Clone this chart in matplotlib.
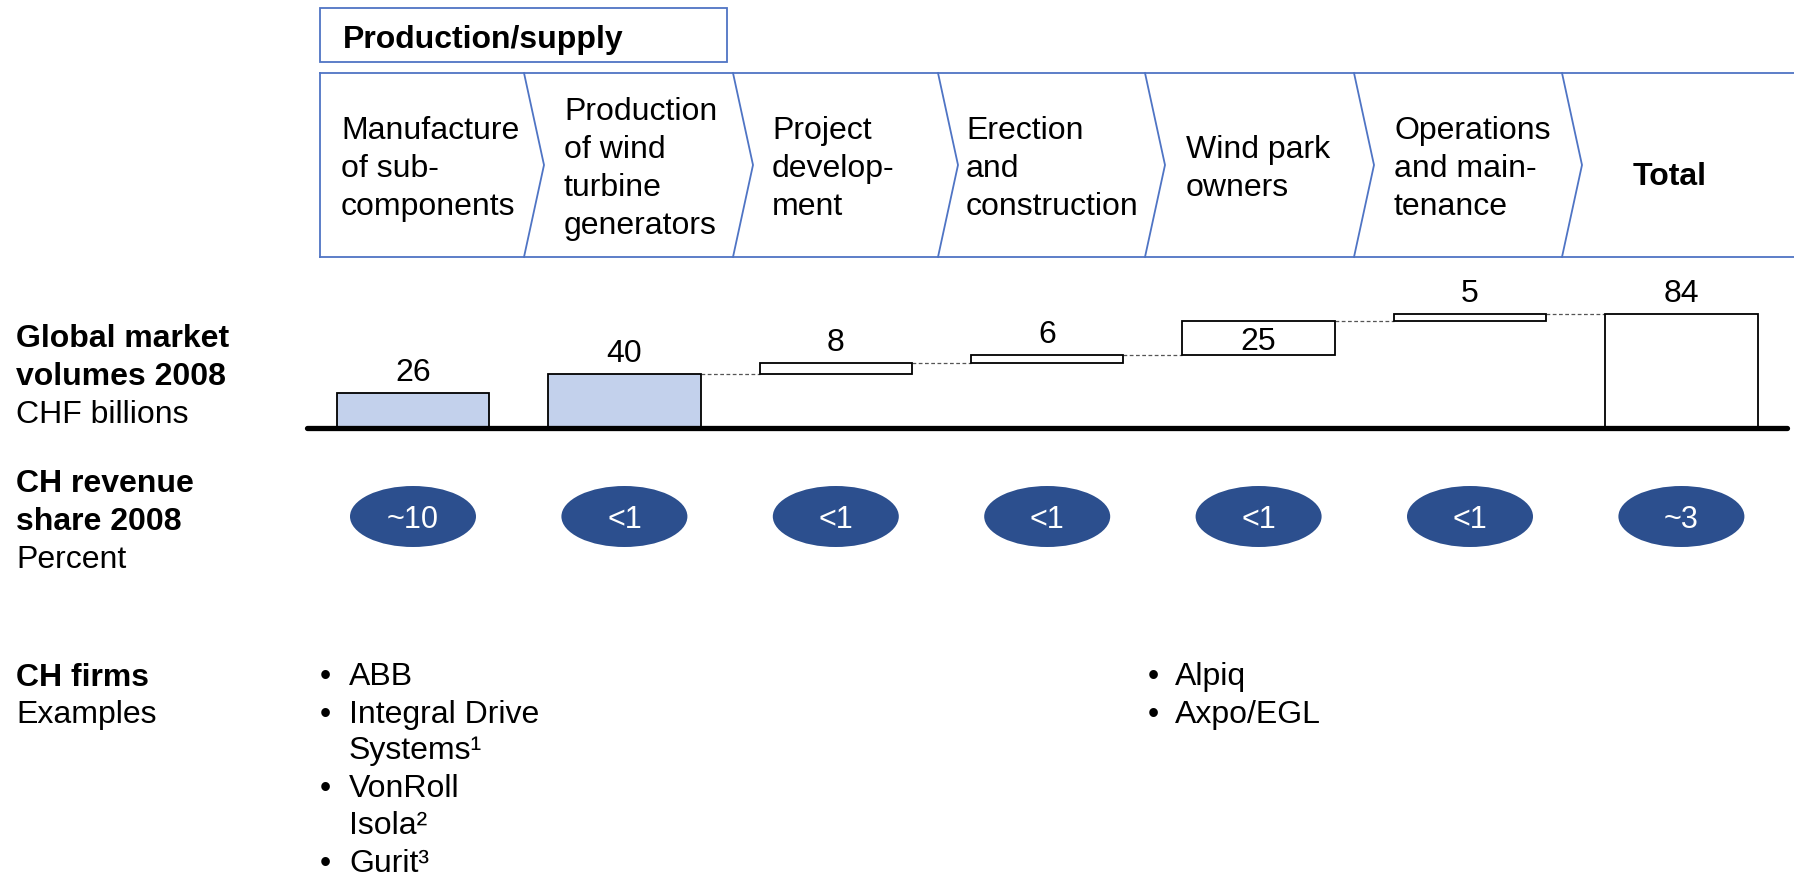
import matplotlib
matplotlib.use("Agg")
import matplotlib.pyplot as plt
from matplotlib.patches import Rectangle, Ellipse

plt.rcParams['font.family'] = ['Liberation Sans', 'DejaVu Sans']

# ---- data -------------------------------------------------------------
stages = ["Manufacture\nof sub-\ncomponents",
          "Production\nof wind\nturbine\ngenerators",
          "Project\ndevelop-\nment",
          "Erection\nand\nconstruction",
          "Wind park\nowners",
          "Operations\nand main-\ntenance",
          "Total"]
market_volume = [26, 40, 8, 6, 25, 5, 84]          # CHF billions, 2008
revenue_share = ["~10", "<1", "<1", "<1", "<1", "<1", "~3"]   # percent
firms_components = ["ABB", "Integral Drive\nSystems¹", "VonRoll\nIsola²", "Gurit³"]
firms_owners = ["Alpiq", "Axpo/EGL"]
header = "Production/supply"
row_titles = [("Global market\nvolumes 2008", "CHF billions"),
              ("CH revenue\nshare 2008", "Percent"),
              ("CH firms", "Examples")]

# ---- style ------------------------------------------------------------
W, H = 1794, 879
FS = 23
CHEVRON_BLUE = "#4F74C4"
BAR_BLUE = "#C3D1EC"
OVAL_BLUE = "#2C4F8E"
LINE_STEP = 37.7

fig = plt.figure(figsize=(W / 100, H / 100), dpi=100)

# page canvas in pixel units (y downwards) for the frame and text blocks
page = fig.add_axes([0, 0, 1, 1])
page.set_xlim(0, W)
page.set_ylim(H, 0)
page.axis("off")


def text_block(x, y_center, lines, weights, step=LINE_STEP, **kw):
    n = len(lines)
    for k, (line, w) in enumerate(zip(lines, weights)):
        yb = y_center + (k - (n - 1) / 2) * step
        page.text(x, yb, line, fontsize=FS, fontweight=w, va="baseline", **kw)


# header box
page.add_patch(Rectangle((320, 9), 407, 54, fill=False, edgecolor=CHEVRON_BLUE, lw=1.3))
page.text(343, 48, header, fontsize=FS, fontweight="bold", va="baseline")

# chevron value chain
top, bot, mid = 74, 258, 166
bounds = [524, 733, 938, 1145, 1354, 1562]
tip = 20
page.plot([320, W], [top, top], color=CHEVRON_BLUE, lw=1.3)
page.plot([320, W], [bot, bot], color=CHEVRON_BLUE, lw=1.3)
page.plot([320, 320], [top, bot], color=CHEVRON_BLUE, lw=1.3)
for b in bounds:
    page.plot([b, b + tip, b], [top, mid, bot], color=CHEVRON_BLUE, lw=1.3)

text_x = [341, 564, 772, 966, 1186, 1394]
for x, s in zip(text_x, stages[:-1]):
    lines = s.split("\n")
    text_block(x, 177, lines, ["normal"] * len(lines))
page.text(1670, 185, stages[-1], fontsize=FS, fontweight="bold", ha="center", va="baseline")

# row titles on the left: bold heading lines followed by a unit line
row_centers = [385, 530]
for (title, unit), yc in zip(row_titles[:2], row_centers):
    tl = title.split("\n")
    text_block(16, yc, tl + [unit], ["bold"] * len(tl) + ["normal"])
page.text(16, 686, row_titles[2][0], fontsize=FS, fontweight="bold", va="baseline")
page.text(16, 723, row_titles[2][1], fontsize=FS, va="baseline")


# firm lists
def bullet_list(x_bullet, x_text, y0, items):
    y = y0
    for item in items:
        page.text(x_bullet, y, "•", fontsize=FS, va="baseline")
        for line in item.split("\n"):
            page.text(x_text, y, line, fontsize=FS, va="baseline")
            y += 36.5
        y += 1.5


bullet_list(320, 349, 685, firms_components)
bullet_list(1148, 1175, 685, firms_owners)

# ---- waterfall of market volumes --------------------------------------
base_y = 429
px_per_unit = 1.357
x_left = 307.3
slot = 211.4
n = len(market_volume)

ax = fig.add_axes([x_left / W, (H - base_y) / H, n * slot / W, 100 * px_per_unit / H])
ax.set_xlim(-0.5, n - 0.5)
ax.set_ylim(0, 100)
ax.axis("off")
ax.patch.set_visible(False)

# first two stages stand alone; later stages build on the turbine value
bottoms = []
level = market_volume[1]
for i, v in enumerate(market_volume):
    if i < 2 or i == n - 1:
        bottoms.append(0)
    else:
        bottoms.append(level)
        level += v
colors = [BAR_BLUE if i < 2 else "white" for i in range(n)]
bw = 0.72
ax.bar(range(n), market_volume, bottom=bottoms, width=bw, color=colors,
       edgecolor="black", linewidth=1.3, zorder=2)

for i in range(1, n - 1):
    y = bottoms[i] + market_volume[i]
    ax.plot([i + bw / 2, i + 1 - bw / 2], [y, y], color="#555555", lw=0.9,
            ls=(0, (3, 2)), zorder=1)

for i, v in enumerate(market_volume):
    floating = 2 <= i < n - 1
    if floating and v >= 20:
        ax.annotate(str(v), (i, bottoms[i] + v / 2), xytext=(0, -8), textcoords="offset points",
                    ha="center", va="baseline", fontsize=FS)
    else:
        ax.annotate(str(v), (i, bottoms[i] + v), xytext=(0, 9.4), textcoords="offset points",
                    ha="center", va="baseline", fontsize=FS)

ax.axhline(0, color="black", lw=3.8, solid_capstyle="round", clip_on=False, zorder=3)

# ---- CH revenue share ovals -------------------------------------------
oval_h = 61
ex = fig.add_axes([x_left / W, (H - 548) / H, n * slot / W, oval_h / H])
ex.set_xlim(-0.5, n - 0.5)
ex.set_ylim(0, 1)
ex.axis("off")
ex.patch.set_visible(False)
for i, s in enumerate(revenue_share):
    ex.add_patch(Ellipse((i, 0.5), 126 / slot, 1.0, facecolor=OVAL_BLUE,
                         edgecolor="none", clip_on=False))
    ex.text(i, 0.5 - 11 / oval_h, s, color="white", fontsize=FS - 1,
            ha="center", va="baseline")

fig.savefig("out.png", dpi=100)
